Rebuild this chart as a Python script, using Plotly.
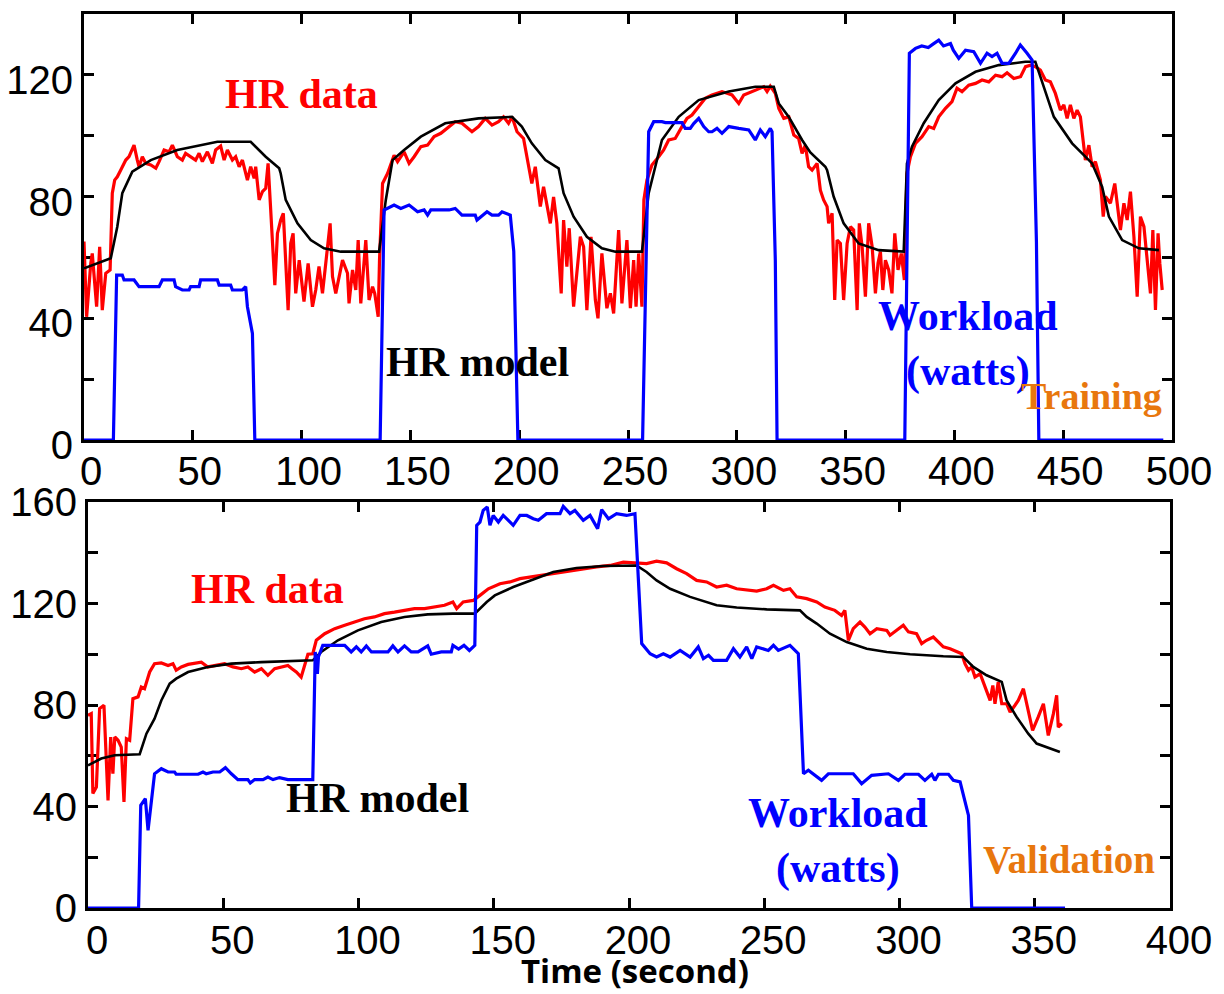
import plotly.graph_objects as go

# ---------------- Training (top panel) ----------------
top_hr_t = [0, 1.2, 3.1, 3.8, 5.8, 7.2, 8.4, 10.0, 12.0, 13.0, 14.1, 15.3, 16.9, 19.2, 20.7, 23.0, 24.5, 25.3, 26.8, 28.4,
            30.7, 33.0, 34.5, 36.8, 39.1, 40.6, 42.9, 45.2, 46.7, 49.0, 51.3, 52.9, 54.4, 56.7, 59.0, 60.5, 62.8, 64.4, 65.9, 68.2,
            69.7, 71.3, 72.8, 75.1, 76.6, 78.2, 78.9, 80.5, 82.0, 83.5, 84.6, 85.8, 87.7, 88.9, 90.4, 91.6, 93.8, 95.0, 96.1, 97.3,
            98.9, 101.1, 103.0, 105.0, 106.5, 108.0, 109.6, 113.1, 114.2, 115.7, 118.8, 121.1, 121.8, 123.4, 124.9, 126.0, 127.2, 129.5, 131.0, 132.6,
            133.6, 135.2, 135.8, 137.2, 139.5, 142.5, 144.1, 147.1, 149.4, 151.7, 154.8, 157.9, 160.9, 164.0,
            166.0, 170.6, 173.7, 178.3, 181.3, 184.4, 187.5, 190.5, 192.8, 195.1, 196.7, 199.0, 202.0, 203.5, 205.8, 207.4, 209.7, 211.2, 212.7, 214.3,
            215.8, 217.3, 219.3, 220.4, 221.9, 223.0, 225.0, 226.5, 228.1, 229.6, 231.1, 233.0, 235.0, 236.2, 238.0, 240.3, 241.9, 243.4, 245.7, 247.2,
            249.5, 251.1, 252.6, 253.7, 254.9, 256.4, 257.3, 258.7, 261.0, 264.1, 266.4, 268.7, 271.7, 274.8, 277.1, 279.4, 282.5, 285.5, 288.6, 293.2,
            297.8, 300.9, 303.2, 307.0, 310.1, 312.4, 313.9, 315.4, 317.7, 319.3, 321.6, 323.9, 326.2, 328.4, 330.0, 331.5, 333.0,
            334.6, 336.9, 338.4, 339.9, 341.5, 342.2, 343.8, 345.0, 346.1, 347.6, 349.1, 350.7, 352.2, 353.7, 355.3, 356.3, 357.6, 359.1, 360.6, 362.2,
            363.7, 364.9, 366.0, 367.1, 368.3, 369.8, 371.3, 372.6, 374.1, 375.6, 377.0, 378.2, 379.8, 382.1, 385.1, 388.2, 390.5, 392.8, 395.9, 398.9,
            401.2, 403.5, 406.6, 409.7, 412.7, 415.8, 418.9, 421.9, 424.2, 427.3, 430.4, 432.7, 435.0, 437.2, 439.5, 441.8, 444.1, 446.4, 448.7, 450.3,
            451.8, 453.3, 454.9, 456.4, 457.9, 460.2, 461.8, 463.3, 464.8, 467.1, 468.4, 469.4, 471.7, 473.7, 476.3, 477.9, 479.4, 480.9, 482.5, 484.0,
            485.5, 487.1, 488.6, 490.1, 491.2, 492.4, 493.6, 494.4, 495.5]
top_hr = [65.2, 40.5, 58.0, 61.3, 43.8, 63.5, 42.7, 54.8, 55.9, 81.1, 85.4, 86.5, 88.7, 92.0, 93.1, 96.9, 92.0, 89.8, 93.1, 90.9,
          90.4, 89.3, 91.5, 95.3, 94.7, 96.9, 93.1, 92.0, 94.2, 93.1, 92.0, 94.2, 91.5, 94.7, 90.9, 95.3, 96.6, 92.0, 95.3, 92.0,
          93.1, 89.8, 92.0, 85.4, 89.8, 86.0, 89.8, 78.9, 81.6, 82.7, 90.9, 75.6, 50.9, 67.9, 72.3, 74.5, 42.7, 64.6, 67.9, 48.2,
          59.1, 45.5, 58.0, 43.8, 49.3, 57.0, 48.2, 71.2, 53.7, 48.2, 59.1, 54.8, 44.9, 55.9, 49.3, 65.7, 44.9, 65.7, 46.0, 50.4,
          48.2, 40.5, 59.1, 84.3, 87.6, 93.6, 91.5, 94.7, 90.9, 93.1, 96.4, 96.9, 99.7, 100.8,
          101.9, 104.6, 104.1, 101.3, 103.0, 105.7, 103.5, 104.6, 106.2, 104.1, 106.2, 101.3, 99.1, 93.1, 84.3, 89.8, 76.7, 83.2, 77.8, 71.2,
          79.9, 71.2, 48.2, 72.3, 57.0, 69.6, 43.8, 54.8, 66.8, 63.5, 42.7, 66.8, 46.0, 40.0, 61.3, 43.3, 48.2, 41.6, 69.0, 44.9,
          65.7, 43.3, 59.1, 43.8, 61.3, 43.8, 78.9, 85.4, 90.4, 93.1, 95.3, 98.6, 99.1, 103.0, 105.7, 106.8, 109.5, 112.3, 113.4, 114.5,
          113.4, 110.6, 113.4, 114.5, 115.6, 116.1, 114.5, 116.3, 113.9, 109.0, 105.7, 106.2, 100.2, 99.1, 94.2, 96.9, 89.8,
          88.7, 90.9, 82.1, 78.9, 76.7, 71.2, 74.5, 46.0, 65.7, 64.6, 46.0, 64.6, 70.1, 69.0, 42.7, 71.2, 63.5, 47.1, 71.2, 63.5,
          48.2, 58.1, 61.9, 49.3, 59.1, 55.9, 48.2, 67.9, 55.9, 61.3, 52.6, 87.6, 93.1, 97.5, 99.7, 103.0, 102.4, 106.2, 109.0, 111.2,
          115.6, 114.5, 116.6, 117.2, 118.3, 117.7, 119.9, 119.4, 120.7, 118.8, 119.4, 122.7, 123.2, 122.7, 121.6, 118.3, 117.7, 113.9, 108.4, 110.1,
          105.7, 110.1, 105.7, 108.4, 106.2, 92.0, 96.9, 89.8, 91.5, 85.4, 73.4, 80.0, 77.8, 84.3, 69.0, 77.8, 72.3, 81.6, 66.8, 47.1,
          73.4, 70.1, 58.1, 48.2, 69.0, 42.7, 67.9, 58.1, 49.3]

top_model_t = [0, 12.3, 15.3, 17.6, 22.2, 30.7, 42.9, 53.6, 61.3, 76.6, 83.5, 89.7, 90.4, 92.7, 98.1, 104.2, 110.3, 118.0, 135.6, 138.7,
               141.8, 147.1, 154.8, 166.0, 181.3, 196.7, 201.2, 205.8, 212.0, 218.1, 220.4, 225.0, 231.1, 238.0, 244.2, 256.4, 259.5, 265.6, 273.3, 282.5,
               296.3, 308.5, 317.0, 319.3, 323.9, 330.0, 333.8, 340.7, 341.5, 344.5, 349.1, 356.0, 365.2, 376.7, 378.2, 380.5, 385.9, 392.8, 400.5, 409.7,
               420.4, 432.6, 437.2, 439.5, 445.7, 454.1, 463.3, 467.9, 471.0, 477.1, 484.8, 494.0]
top_model = [56.4, 59.7, 70.1, 81.1, 88.2, 92.0, 95.3, 96.9, 98.0, 98.0, 93.1, 89.3, 87.6, 78.9, 71.2, 65.7, 63.0, 61.9, 61.9, 78.9,
             92.0, 95.3, 99.7, 104.1, 105.7, 106.2, 103.0, 97.5, 92.0, 89.3, 81.1, 73.4, 66.8, 63.0, 61.9, 61.9, 81.1, 98.6, 106.2, 111.7,
             114.5, 116.1, 116.1, 110.6, 106.2, 98.6, 94.5, 89.8, 88.7, 80.0, 71.2, 64.6, 62.4, 61.9, 90.9, 96.4, 104.1, 111.7, 117.2, 121.0,
             123.2, 124.3, 124.3, 119.4, 106.2, 97.5, 90.9, 83.2, 73.4, 65.7, 63.0, 62.4]

top_work_t = [0, 13.5, 15.0, 17.6, 18.4, 23.0, 25.3, 34.5, 36.0, 41.4, 42.1, 45.2, 48.3, 49.0, 52.9, 53.6, 61.3, 62.1, 67.4, 68.2,
              72.8, 74.3, 75.1, 77.4, 78.5, 136.1, 137.9, 142.5, 145.6, 149.4, 153.3, 156.3, 157.9, 159.4, 167.8, 170.6, 173.7, 179.8, 180.6, 185.2,
              187.5, 190.5, 192.1, 195.9, 197.5, 199.4, 256.7, 259.5, 261.8, 265.6, 267.2, 274.8, 276.3, 278.6, 280.2, 282.5, 284.8, 287.1, 288.6, 290.9,
              293.2, 296.3, 300.9, 305.5, 308.5, 310.8, 313.1, 315.4, 316.2, 317.7, 318.5, 377.2, 379.3, 382.1, 385.0, 388.0, 390.0, 392.8, 395.0, 398.2,
              399.5, 402.0, 405.1, 408.9, 412.0, 415.0, 417.3, 419.6, 421.9, 425.0, 428.1, 430.3, 433.4, 435.7, 437.7, 438.8, 496.0]
top_work = [0, 0, 54.2, 54.2, 52.6, 52.6, 50.4, 50.4, 52.6, 52.6, 50.4, 49.3, 49.3, 50.4, 50.4, 52.6, 52.6, 50.9, 50.9, 49.3,
            49.3, 50.4, 43.8, 35.0, 0, 0, 75.6, 77.2, 76.1, 77.2, 75.0, 75.6, 73.9, 75.6, 75.6, 76.1, 73.9, 73.9, 72.3, 75.0,
            73.9, 73.9, 75.0, 73.9, 62.0, 0, 0, 101.3, 104.6, 104.6, 104.3, 104.3, 102.4, 102.4, 104.0, 105.7, 103.0, 101.3, 101.3, 102.4,
            100.8, 103.0, 102.4, 101.9, 98.6, 101.9, 99.7, 102.4, 101.3, 59.0, 0, 0, 127.1, 128.7, 129.5, 129.0, 130.0, 131.4, 129.5, 130.3,
            128.1, 125.4, 128.1, 127.6, 123.8, 127.1, 126.0, 127.1, 123.8, 123.8, 127.1, 129.8, 127.1, 124.9, 65.0, 0, 0]

# ---------------- Validation (bottom panel) ----------------
bot_hr_t = [0, 1.2, 1.8, 3.1, 4.3, 5.9, 7.4, 8.4, 9.2, 9.9, 11.1, 12.3, 13.3, 14.2, 15.4, 16.6, 18.5, 19.7, 20.9, 22.8,
            24.6, 27.1, 29.6, 31.4, 32.6, 34.5, 37.0, 39.4, 41.9, 44.3, 47.4, 50.5, 53.6, 56.7, 59.1, 61.6, 64.1, 66.5, 69.0, 71.4,
            73.9, 75.4, 77.0, 78.8, 80.1, 81.3, 83.1, 84.4, 87.5, 91.2, 94.9, 98.5, 102.2, 105.9, 109.6, 113.3, 117.0, 120.7, 124.4, 128.1,
            131.8, 134.9, 136.3, 138.7, 142.4, 144.9, 148.0, 152.3, 156.0, 159.7, 163.4, 167.1, 170.8, 174.5, 178.2, 183.1, 188.0, 193.0, 197.9, 202.2,
            206.5, 210.2, 213.9, 217.6, 221.3, 225.0, 228.7, 232.4, 236.1, 239.8, 243.5, 247.2, 250.9, 253.4, 257.1, 259.5, 262.0, 265.7, 269.4, 272.4,
            276.1, 278.6, 279.8, 281.1, 282.9, 285.4, 287.2, 289.1, 291.6, 295.3, 296.5, 299.6, 301.4, 303.3, 306.3, 308.2, 310.0, 312.5, 314.4, 316.2,
            318.7, 321.1, 323.0, 324.2, 325.5, 326.7, 327.9, 329.8, 331.6, 333.5, 334.5, 335.3, 336.5, 337.8, 339.6, 340.9, 342.7, 343.9, 345.8, 347.6,
            349.2, 351.3, 353.2, 355.0, 356.9, 358.1, 358.7, 360.0]
bot_hr = [75.9, 76.6, 45.1, 47.7, 78.6, 79.9, 42.4, 67.4, 52.9, 67.4, 66.1, 63.4, 41.8, 66.7, 66.1, 82.5, 83.2, 87.1, 86.4, 93.0,
          96.3, 96.6, 95.6, 96.3, 93.7, 95.0, 96.0, 96.3, 96.9, 95.0, 95.6, 96.3, 95.0, 94.3, 95.0, 93.0, 94.3, 91.7, 94.3, 95.0,
          95.6, 94.3, 93.0, 91.0, 95.6, 100.0, 100.2, 105.5, 108.1, 110.1, 111.4, 112.7, 114.0, 114.7, 116.0, 116.6, 117.3, 118.0, 118.0, 118.6,
          119.3, 120.6, 118.0, 120.6, 121.2, 123.2, 125.8, 127.8, 128.5, 129.8, 130.4, 131.1, 131.8, 132.4, 133.1, 133.7, 134.4, 135.0, 136.3, 136.0,
          135.7, 136.7, 136.0, 133.7, 131.8, 129.1, 128.5, 126.5, 127.2, 125.8, 125.2, 124.9, 125.8, 127.2, 125.2, 125.8, 122.6, 121.9, 120.6, 118.6,
          117.3, 115.3, 117.3, 105.5, 110.1, 112.7, 110.7, 108.1, 110.1, 109.4, 107.5, 110.1, 111.4, 108.8, 108.1, 104.2, 105.5, 106.8, 104.8, 102.9,
          102.2, 100.9, 100.2, 96.3, 93.7, 95.0, 91.0, 92.3, 87.1, 81.8, 87.7, 80.5, 89.1, 80.5, 80.5, 77.2, 79.9, 81.8, 86.4, 77.9,
          70.0, 75.3, 80.5, 68.0, 76.6, 83.8, 71.3, 72.6]

bot_model_t = [0, 4.9, 9.9, 19.1, 21.6, 24.6, 27.1, 30.2, 32.6, 37.0, 44.3, 53.0, 64.1, 73.9, 83.1, 86.2, 92.4, 99.8, 108.4, 117.0,
               125.6, 134.9, 143.0, 147.4, 150.4, 157.2, 163.4, 172.0, 180.6, 190.5, 202.8, 206.5, 210.2, 215.2, 222.6, 232.4, 239.8, 250.9, 263.2, 265.7,
               269.4, 274.3, 280.5, 287.9, 295.3, 303.9, 316.2, 323.6, 327.3, 332.2, 337.8, 339.6, 343.3, 347.6, 350.7, 354.4, 359.3]
bot_model = [56.2, 58.9, 60.2, 60.6, 68.7, 74.6, 81.8, 88.4, 90.4, 93.0, 95.0, 96.3, 96.9, 97.3, 97.6, 100.9, 105.5, 109.4, 112.7, 114.7,
             115.7, 116.0, 116.0, 120.6, 123.2, 126.5, 129.1, 132.4, 134.0, 134.8, 135.0, 132.4, 129.1, 125.8, 122.6, 119.3, 118.4, 117.7, 117.3, 114.7,
             112.1, 108.1, 104.8, 102.2, 100.9, 100.0, 99.2, 98.9, 95.0, 91.7, 89.1, 81.8, 75.3, 68.7, 64.8, 63.4, 61.5]

bot_work_t = [0, 18.7, 19.5, 21.2, 22.2, 24.6, 27.1, 29.6, 32.0, 32.6, 40.7, 42.5, 43.7, 46.2, 48.7, 50.8, 53.0, 55.4, 59.1, 60.0,
              61.6, 64.7, 66.5, 68.4, 70.8, 73.9, 83.1, 84.0, 84.8, 85.2, 86.8, 94.9, 97.3, 99.2, 101.0, 102.9, 104.8, 110.9, 112.7, 114.6,
              117.0, 119.5, 122.0, 125.6, 126.9, 130.6, 134.3, 134.9, 137.0, 139.0, 141.0, 143.0, 143.7, 144.9, 146.1, 147.6, 148.6, 149.8, 151.7, 153.5,
              155.4, 157.2, 159.7, 162.2, 164.6, 166.5, 169.5, 174.5, 175.7, 178.2, 180.0, 183.1, 185.6, 188.4, 189.9, 192.4, 195.4, 199.1, 202.2, 204.7,
              207.8, 210.2, 212.7, 215.2, 218.9, 222.6, 225.6, 227.5, 229.4, 231.2, 236.1, 238.6, 241.0, 243.5, 245.4, 247.2, 251.5, 253.4, 255.2, 259.5,
              262.6, 264.5, 266.3, 268.8, 271.2, 273.7, 282.9, 286.0, 289.7, 295.9, 299.6, 302.0, 307.0, 309.4, 311.9, 313.1, 314.4, 318.1, 319.9, 322.4,
              325.5, 326.7, 361.2]
bot_work = [0, 0, 40.5, 43.1, 30.6, 52.9, 54.9, 53.6, 53.6, 52.7, 52.7, 53.6, 52.9, 53.6, 53.6, 55.3, 52.9, 50.6, 50.6, 49.3,
            50.6, 50.6, 51.6, 50.6, 51.4, 50.6, 50.6, 100.9, 92.3, 99.0, 103.5, 103.5, 100.9, 102.9, 100.9, 103.3, 100.9, 100.9, 103.3, 100.9,
            103.3, 100.9, 100.9, 103.3, 100.0, 100.9, 100.9, 103.5, 102.0, 103.5, 101.5, 103.5, 150.8, 152.1, 156.7, 158.0, 150.8, 154.7, 152.1, 154.7,
            152.8, 150.8, 154.7, 154.7, 153.4, 152.8, 155.4, 155.4, 158.3, 155.4, 156.7, 152.8, 154.7, 149.5, 157.0, 153.4, 155.4, 154.7, 155.4, 104.2,
            100.2, 98.9, 100.2, 98.9, 101.5, 98.9, 102.9, 98.3, 99.6, 97.6, 97.6, 102.2, 98.9, 102.9, 98.3, 102.9, 101.5, 103.5, 101.5, 103.5,
            100.2, 52.9, 54.3, 52.3, 50.3, 52.9, 52.9, 49.0, 52.3, 52.9, 50.3, 52.7, 52.7, 50.3, 52.7, 50.3, 52.7, 52.7, 50.3, 49.7,
            36.5, 0, 0]

top_y_ticks = [0, 20, 40, 60, 80, 100, 120, 140]
top_y_text = ["0", "", "40", "", "80", "", "120", ""]
top_x_ticks = [0, 50, 100, 150, 200, 250, 300, 350, 400, 450, 500]
bot_y_ticks = [0, 20, 40, 60, 80, 100, 120, 140, 160]
bot_y_text = ["0", "", "40", "", "80", "", "120", "", "160"]
bot_x_ticks = [0, 50, 100, 150, 200, 250, 300, 350, 400]

RED, BLACK, BLUE, ORANGE = "#FF0000", "#000000", "#0000FF", "#E8770E"

fig = go.Figure()
fig.add_trace(go.Scatter(x=top_hr_t, y=top_hr, mode="lines", line=dict(color=RED, width=3.2), xaxis="x", yaxis="y"))
fig.add_trace(go.Scatter(x=top_model_t, y=top_model, mode="lines", line=dict(color=BLACK, width=2.6), xaxis="x", yaxis="y"))
fig.add_trace(go.Scatter(x=top_work_t, y=top_work, mode="lines", line=dict(color=BLUE, width=3.2), xaxis="x", yaxis="y"))
fig.add_trace(go.Scatter(x=bot_hr_t, y=bot_hr, mode="lines", line=dict(color=RED, width=3.2), xaxis="x2", yaxis="y2"))
fig.add_trace(go.Scatter(x=bot_model_t, y=bot_model, mode="lines", line=dict(color=BLACK, width=2.6), xaxis="x2", yaxis="y2"))
fig.add_trace(go.Scatter(x=bot_work_t, y=bot_work, mode="lines", line=dict(color=BLUE, width=3.2), xaxis="x2", yaxis="y2"))

W, H = 1224, 994
tickfont = dict(family="Liberation Sans, Arial", size=40, color="black")
common = dict(showline=True, linecolor="black", linewidth=3, mirror="ticks", ticks="inside", ticklen=10,
              tickwidth=2.5, tickcolor="black", showgrid=False, zeroline=False, tickfont=tickfont,
              layer="below traces", fixedrange=True, automargin=False)

fig.update_layout(
    width=W, height=H, margin=dict(l=0, r=0, t=0, b=0, autoexpand=False),
    paper_bgcolor="white", plot_bgcolor="white", showlegend=False,
    xaxis=dict(domain=[84 / W, 1172 / W], range=[0, 500], tickvals=top_x_ticks, anchor="y",
               ticklabelshift=7, ticklabelstandoff=-6, **common),
    yaxis=dict(domain=[1 - 440 / H, 1 - 14 / H], range=[0, 140], tickvals=top_y_ticks, ticktext=top_y_text,
               anchor="x", ticklabelshift=5, **common),
    xaxis2=dict(domain=[88 / W, 1170 / W], range=[0, 400], tickvals=bot_x_ticks, anchor="y2",
                ticklabelshift=9, ticklabelstandoff=-5, **common),
    yaxis2=dict(domain=[1 - 908 / H, 1 - 502 / H], range=[0, 160], tickvals=bot_y_ticks, ticktext=bot_y_text,
                anchor="x2", ticklabelshift=0, **common),
)

serif = "Liberation Serif, Times New Roman"
def note(text, x, y, xref, yref, color, size):
    fig.add_annotation(text=text, x=x, y=y, xref=xref, yref=yref, showarrow=False,
                       font=dict(family=serif, size=size, color=color, weight="bold"),
                       xanchor="center", yanchor="middle")

note("HR data", 100, 113.7, "x", "y", RED, 42)
note("HR model", 181, 25.6, "x", "y", BLACK, 42)
note("Workload<br>(watts)", 406.4, 31.5, "x", "y", BLUE, 42)
note("Training", 463, 14.5, "x", "y", ORANGE, 38)
note("HR data", 66.3, 125.6, "x2", "y2", RED, 42)
note("HR model", 107.1, 43.4, "x2", "y2", BLACK, 42)
note("Workload<br>(watts)", 277.2, 26.3, "x2", "y2", BLUE, 42)
note("Validation", 362.5, 19.2, "x2", "y2", ORANGE, 39)

fig.add_annotation(text="Time (second)", x=635 / W, y=0, xref="paper", yref="paper", showarrow=False,
                   font=dict(family="Open Sans", size=33, color="black", weight="bold"),
                   xanchor="center", yanchor="bottom", borderpad=0)

fig.write_html("out.html")
